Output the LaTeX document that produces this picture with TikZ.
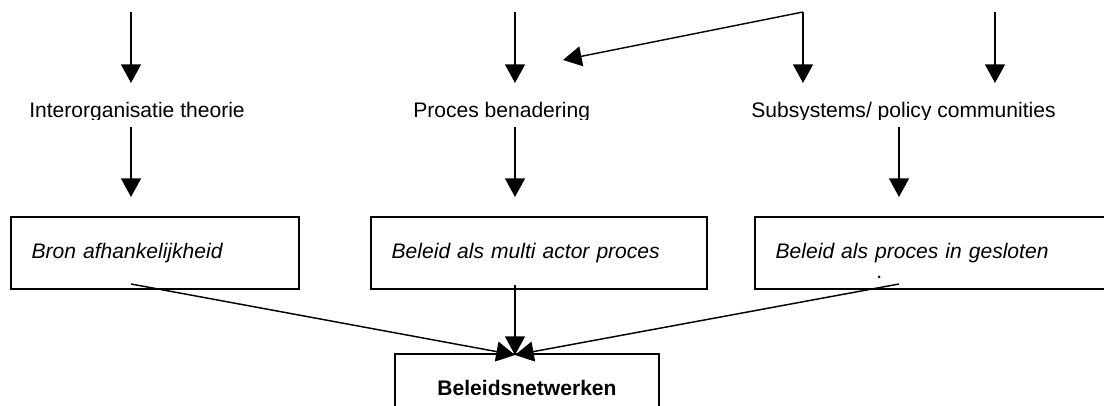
\documentclass[tikz,border=0pt]{standalone}
\usepackage{fontspec}
\setmainfont{Liberation Sans}
\usetikzlibrary{arrows.meta}
\tikzset{
  pijl/.style={line width=1.1pt, -{Triangle[length=14pt,width=15pt]}},
  kader/.style={draw, line width=1.1pt, inner xsep=15.5pt, inner ysep=0pt, align=left, font=\fontsize{15.8}{19}\selectfont\itshape},
  kop/.style={anchor=base west, inner sep=0pt, font=\fontsize{15.8}{19}\selectfont},
}

\begin{document}
\begin{tikzpicture}[x=0.75pt,y=0.75pt,yscale=-1,xscale=1]
\clip (0,0) rectangle (1104,406);

% Text Node
\begin{scope}
\clip (0,0) rectangle (1104,119.5);
\node[kop] (inter) at (29,118) {Interorganisatie theorie};
\node[kop] (proces) at (413,118) {Proces benadering};
\node[kop] (sub) at (751,118) {Subsystems/ policy communities};
\end{scope}

%Shape: Rectangle
\node[kader, text width=185pt, minimum height=54pt] (bron) at (155,253) {Bron afhankelijkheid};
\node[kader, text width=221pt, minimum height=54pt] (multi) at (539,253) {Beleid als multi actor proces};
\node[kader, text width=242.75pt, minimum height=54pt] (gesloten) at (937.5,253) {\raisebox{-3pt}{Beleid als proces in gesloten}};
\node[kop] (punt) at (876,279) {.};
\node[kader, align=center, minimum width=198pt, minimum height=50pt, font=\fontsize{15.8}{19}\selectfont\bfseries] (netwerk) at (527,387.5) {Beleidsnetwerken};

%Straight Lines
\coordinate (a1) at (131,12);  \coordinate (b1) at (131,83);
\coordinate (a2) at (515,12);  \coordinate (b2) at (515,83);
\coordinate (hoek) at (803,12); \coordinate (b3) at (803,83);
\coordinate (pb) at (563,60);
\coordinate (a4) at (995,12);  \coordinate (b4) at (995,83);
\draw[pijl] (a1) -- (b1);
\draw[pijl] (a2) -- (b2);
\draw[pijl] (hoek) -- (b3);
\draw[pijl] (hoek) -- (pb);
\draw[pijl] (a4) -- (b4);

\coordinate (c1) at (131,127); \coordinate (d1) at (131,197);
\coordinate (c2) at (515,127); \coordinate (d2) at (515,197);
\coordinate (c3) at (899,127); \coordinate (d3) at (899,197);
\draw[pijl] (c1) -- (d1);
\draw[pijl] (c2) -- (d2);
\draw[pijl] (c3) -- (d3);

\coordinate (samen) at (515,355);
\coordinate (e1) at (131,284);
\coordinate (e2) at (515,285);
\coordinate (e3) at (899,284);
\draw[pijl] (e1) -- (samen);
\draw[pijl] (e2) -- (samen);
\draw[pijl] (e3) -- (samen);

\end{tikzpicture}
\end{document}
